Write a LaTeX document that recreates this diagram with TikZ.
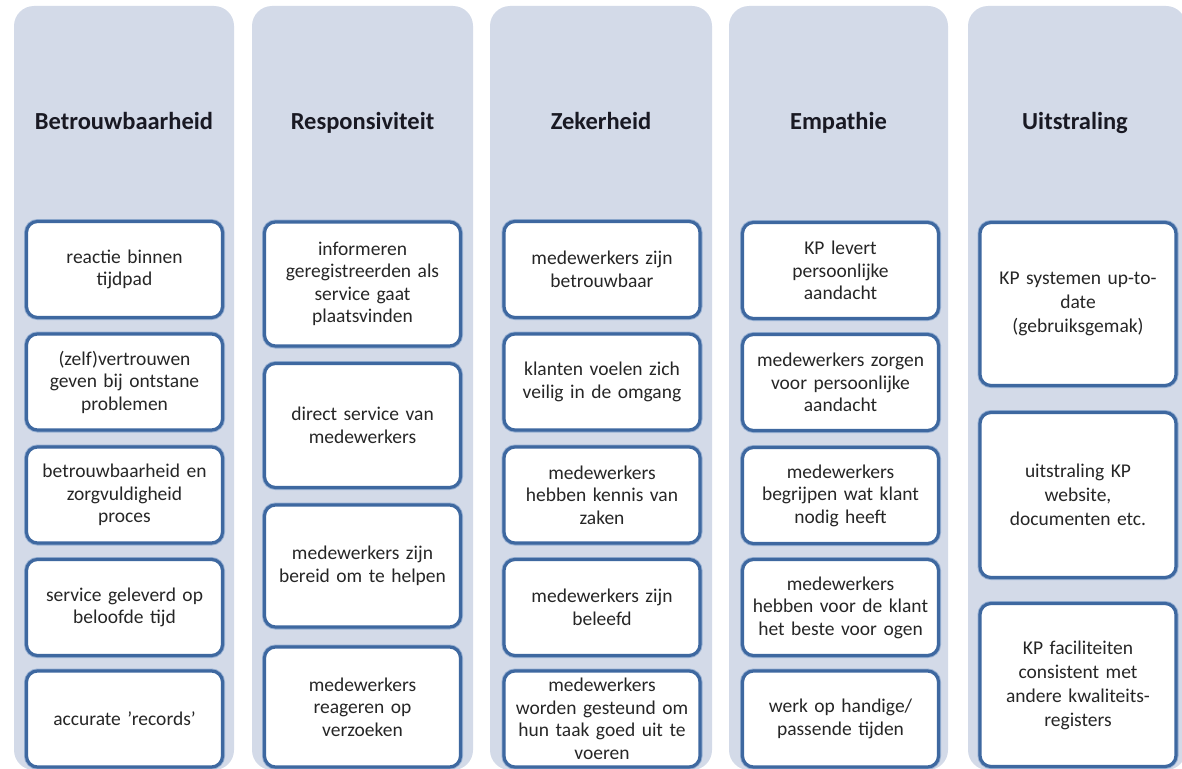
\documentclass[tikz,border=0pt]{standalone}
\usepackage{fontspec}
\setmainfont{Carlito}
\definecolor{colbg}{RGB}{211,218,232}
\definecolor{boxblue}{RGB}{62,104,160}
\definecolor{boxrim}{RGB}{150,175,210}
\definecolor{bodytext}{RGB}{38,38,38}
\definecolor{hdrtext}{RGB}{25,25,35}
\begin{document}
\begin{tikzpicture}[x=1pt,y=-1pt,
  colshape/.style={fill=colbg, rounded corners=20pt},
  hdr/.style={font=\fontsize{24.5}{28}\selectfont\bfseries, text=hdrtext, inner sep=0pt, anchor=base},
  itembox/.style={draw=boxblue, line width=3.2pt, fill=white, rounded corners=11pt,
    minimum width=196pt, text width=194pt, align=center, inner sep=0pt,
    font=\fontsize{19.5}{22.5}\selectfont, text=bodytext,
    preaction={draw=boxrim, line width=5pt}},
  ]
\useasboundingbox (0,0) rectangle (1182,768);
\begin{scope}
\clip (0,0) rectangle (1182,768);
% columns
\path[colshape] (14,6) rectangle (234,770);
\path[colshape] (252,6) rectangle (473,770);
\path[colshape] (490,6) rectangle (712,770);
\path[colshape] (729,6) rectangle (948,770);
\path[colshape] (968,6) rectangle (1186,770);
% headers
\node[hdr] (h1) at (124,129) {Betrouwbaarheid};
\node[hdr] (h2) at (362.5,129) {Responsiviteit};
\node[hdr] (h3) at (601,129) {Zekerheid};
\node[hdr] (h4) at (838.5,129) {Empathie};
\node[hdr] (h5) at (1075,129) {Uitstraling};
% column 1
\node[itembox, minimum height=96pt] (a1) at (124.5,269.5) {reactie binnen\\tijdpad};
\node[itembox, minimum height=96pt] (a2) at (124.5,382) {(zelf)vertrouwen\\geven bij ontstane\\problemen};
\node[itembox, minimum height=96pt] (a3) at (124.5,495) {betrouwbaarheid en\\zorgvuldigheid\\proces};
\node[itembox, minimum height=96pt] (a4) at (124.5,607.5) {service geleverd op\\beloofde tijd};
\node[itembox, minimum height=96pt] (a5) at (124.5,719) {accurate 'records'};
% column 2
\node[itembox, minimum height=124pt] (b1) at (362.5,284) {informeren\\geregistreerden als\\service gaat\\plaatsvinden};
\node[itembox, minimum height=124pt] (b2) at (362.5,425.5) {direct service van\\medewerkers};
\node[itembox, minimum height=122pt] (b3) at (362.5,566) {medewerkers zijn\\bereid om te helpen};
\node[itembox, minimum height=120pt] (b4) at (362.5,707) {medewerkers\\reageren op\\verzoeken};
% column 3
\node[itembox, minimum height=96pt] (c1) at (602,269.5) {medewerkers zijn\\betrouwbaar};
\node[itembox, minimum height=96pt] (c2) at (602,382) {klanten voelen zich\\veilig in de omgang};
\node[itembox, minimum height=96pt] (c3) at (602,495) {medewerkers\\hebben kennis van\\zaken};
\node[itembox, minimum height=96pt] (c4) at (602,607.5) {medewerkers zijn\\beleefd};
\node[itembox, minimum height=96pt] (c5) at (602,719) {medewerkers\\worden gesteund om\\hun taak goed uit te\\voeren};
% column 4
\node[itembox, minimum height=96pt] (d1) at (840.5,270.5) {KP levert\\persoonlijke\\aandacht};
\node[itembox, minimum height=96pt] (d2) at (840.5,382.5) {medewerkers zorgen\\voor persoonlijke\\aandacht};
\node[itembox, minimum height=96pt] (d3) at (840.5,495.5) {medewerkers\\begrijpen wat klant\\nodig heeft};
\node[itembox, minimum height=96pt] (d4) at (840.5,607.5) {medewerkers\\hebben voor de klant\\het beste voor ogen};
\node[itembox, minimum height=96pt] (d5) at (840.5,719) {werk op handige/\\passende tijden};
% column 5
\node[itembox, minimum height=163pt, font=\fontsize{19.5}{24}\selectfont] (e1) at (1078,304) {KP systemen up-to-\\date\\(gebruiksgemak)};
\node[itembox, minimum height=165pt, font=\fontsize{19.5}{24}\selectfont] (e2) at (1078,495) {uitstraling KP\\website,\\documenten etc.};
\node[itembox, minimum height=163pt, font=\fontsize{19.5}{24}\selectfont] (e3) at (1078,685) {KP faciliteiten\\consistent met\\andere kwaliteits-\\registers};
\end{scope}
\end{tikzpicture}
\end{document}
